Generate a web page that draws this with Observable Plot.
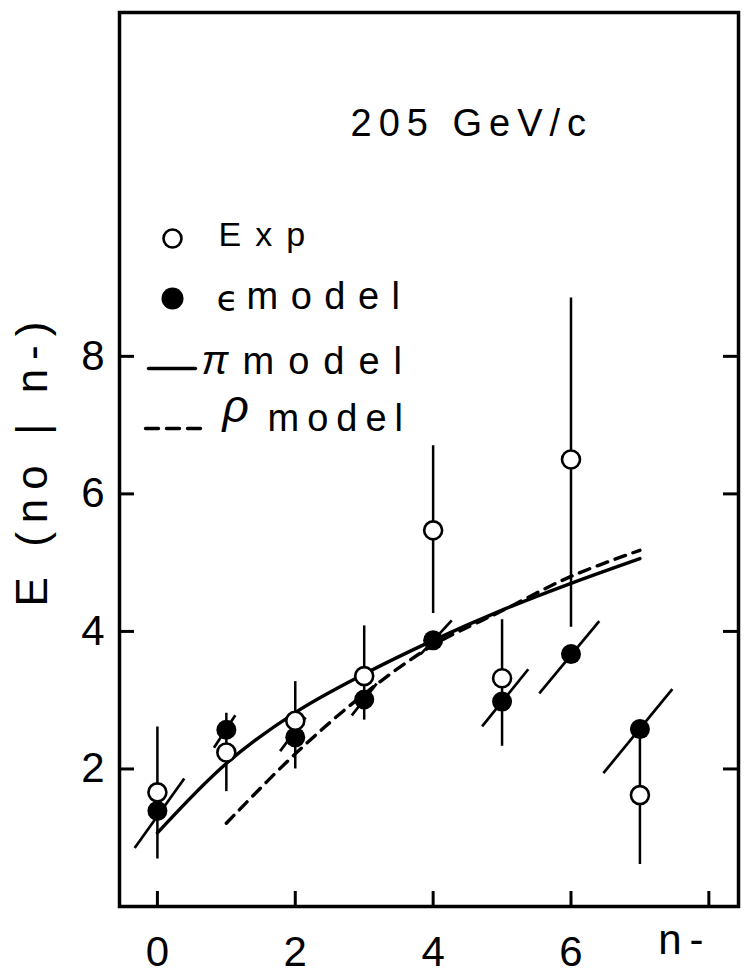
<!DOCTYPE html>
<html>
<head>
<meta charset="utf-8">
<script src="https://cdn.jsdelivr.net/npm/d3@7"></script>
<script src="https://cdn.jsdelivr.net/npm/@observablehq/plot@0.6"></script>
<style>
  body { margin: 0; background: #fff; }
</style>
</head>
<body>
<div id="chart"></div>
<script>
// ---- data ----
const n = [0, 1, 2, 3, 4, 5, 6, 7];
const expVal = [1.66, 2.24, 2.70, 3.35, 5.47, 3.32, 6.50, 1.62];
const expLo  = [0.69, 1.67, 2.00, 2.71, 4.26, 2.33, 4.06, 0.61];
const expHi  = [2.61, 2.81, 3.27, 4.08, 6.70, 4.17, 8.85, 2.58];
const epsVal = [1.39, 2.57, 2.46, 3.01, 3.87, 2.98, 3.67, 2.58];
// slanted bars through the epsilon-model points (end points)
const diagX1 = [-0.33, 0.82, 1.78, 2.82, 3.82, 4.71, 5.54, 6.47];
const diagY1 = [0.85, 2.31, 2.26, 2.78, 3.67, 2.62, 3.10, 1.94];
const diagX2 = [0.39, 1.13, 2.15, 3.18, 4.27, 5.38, 6.41, 7.47];
const diagY2 = [1.86, 2.78, 2.75, 3.24, 4.16, 3.45, 4.15, 3.16];
// model curves
const piN = [0, 1, 2, 3, 4, 5, 6, 7];
const piVal = [1.07, 2.08, 2.82, 3.38, 3.87, 4.31, 4.70, 5.06];
const rhoN = [1, 2, 3, 4, 5, 6, 7];
const rhoVal = [1.21, 2.22, 3.09, 3.80, 4.30, 4.80, 5.18];
// axes and texts
const xTicks = [0, 2, 4, 6, 8];
const xLabelTicks = [0, 2, 4, 6];
const yTicks = [2, 4, 6, 8];
const xName = "n-";
const yName = "E (no | n-)";
const title = "205 GeV/c";
const legendExp = "Exp";
const legendModel = "model";

const W = 753, H = 975;
const mL = 119, mR = 15, mT = 12, mB = 69;
const innerW = W - mL - mR, innerH = H - mT - mB;
const tickLen = 15;
const lineShape = { draw(ctx, l) { ctx.moveTo(0, 0); ctx.lineTo(0, -l); } };

const chart = Plot.plot({
  width: W, height: H,
  marginLeft: mL, marginRight: mR, marginTop: mT, marginBottom: mB,
  style: { fontFamily: "'Liberation Sans', Arial, sans-serif", background: "white", color: "black" },
  x: { domain: [-0.55, 8.43], label: null },
  y: { domain: [0, 13], label: null },
  marks: [
    Plot.frame({ strokeWidth: 3.5 }),
    // inward ticks
    Plot.tickY(yTicks, { y: d => d, insetRight: innerW - tickLen, strokeWidth: 3 }),
    Plot.tickY(yTicks, { y: d => d, insetLeft: innerW - tickLen, strokeWidth: 3 }),
    Plot.tickX(xTicks, { x: d => d, insetTop: innerH - tickLen, strokeWidth: 3 }),
    Plot.axisX(xLabelTicks, { tickSize: 0, tickPadding: 30, fontSize: 42, tickFormat: d => String(d), label: null }),
    Plot.axisY(yTicks, { anchor: "left", tickSize: 0, tickPadding: 15, fontSize: 42, tickFormat: d => String(d), label: null }),
    // error bars and slanted bars
    Plot.ruleX(n, { x: n, y1: expLo, y2: expHi, strokeWidth: 2.5 }),
    Plot.link(n, { x1: diagX1, y1: diagY1, x2: diagX2, y2: diagY2, strokeWidth: 2.7 }),
    // model curves
    Plot.line(piN, { x: piN, y: piVal, curve: "catmull-rom", strokeWidth: 3.4 }),
    Plot.line(rhoN, { x: rhoN, y: rhoVal, curve: "catmull-rom", strokeWidth: 3.4, strokeDasharray: "11,8" }),
    // points
    Plot.dot(n, { x: n, y: epsVal, r: 10, fill: "black" }),
    Plot.dot(n, { x: n, y: expVal, r: 9, fill: "white", stroke: "black", strokeWidth: 2.6 }),
    // title
    Plot.text([title], { text: d => d, frameAnchor: "top-left", dx: 231, dy: 123, textAnchor: "start", lineAnchor: "bottom", fontSize: 38 }),
    // legend
    Plot.dot([0], { frameAnchor: "top-left", dx: 53, dy: 226, r: 9, fill: "white", stroke: "black", strokeWidth: 2.6 }),
    Plot.text([legendExp], { text: d => d, frameAnchor: "top-left", dx: 99, dy: 233, textAnchor: "start", lineAnchor: "bottom", fontSize: 34 }),
    Plot.dot([0], { frameAnchor: "top-left", dx: 53, dy: 286, r: 11, fill: "black" }),
    Plot.text(["\u03F5"], { text: d => d, frameAnchor: "top-left", dx: 97, dy: 298, textAnchor: "start", lineAnchor: "bottom", fontSize: 36, fontFamily: "DejaVu Sans" }),
    Plot.text([legendModel], { text: d => d, frameAnchor: "top-left", dx: 127, dy: 296, textAnchor: "start", lineAnchor: "bottom", fontSize: 38 }),
    Plot.vector([0], { frameAnchor: "top-left", dx: 29, dy: 356, length: 47, rotate: 90, anchor: "start", shape: lineShape, strokeWidth: 3.4 }),
    Plot.text(["\u03C0"], { text: d => d, frameAnchor: "top-left", dx: 82, dy: 361, textAnchor: "start", lineAnchor: "bottom", fontSize: 40, fontStyle: "italic" }),
    Plot.text([legendModel], { text: d => d, frameAnchor: "top-left", dx: 123, dy: 361, textAnchor: "start", lineAnchor: "bottom", fontSize: 38 }),
    Plot.vector([0], { frameAnchor: "top-left", dx: 26, dy: 416, length: 55, rotate: 90, anchor: "start", shape: lineShape, strokeWidth: 3.4, strokeDasharray: "13,8" }),
    Plot.text(["\u03C1"], { text: d => d, frameAnchor: "top-left", dx: 103, dy: 409, textAnchor: "start", lineAnchor: "bottom", fontSize: 46, fontStyle: "italic" }),
    Plot.text([legendModel], { text: d => d, frameAnchor: "top-left", dx: 148, dy: 418, textAnchor: "start", lineAnchor: "bottom", fontSize: 38 }),
    // axis names
    Plot.text([yName], { text: d => d, frameAnchor: "left", rotate: -90, textAnchor: "middle", dx: -87, dy: 0, fontSize: 44 }),
    Plot.text([xName], { text: d => d, frameAnchor: "bottom-right", textAnchor: "end", dx: -27, dy: 47, fontSize: 42 })
  ]
});

// letter spacing of the lettering (the reference uses widely spaced stencil letters)
const spacing = new Map([[title, 7], [legendExp, 14], [yName, 9], [xName, 8]]);
const modelSpacing = [12.5, 14, 8];
let mi = 0;
d3.select(chart).selectAll("text").each(function () {
  const t = this.textContent;
  let ls = null;
  if (t === legendModel) ls = modelSpacing[mi++];
  else if (spacing.has(t)) ls = spacing.get(t);
  if (ls != null) {
    this.setAttribute("letter-spacing", ls);
    this.style.letterSpacing = ls + "px";
  }
});
document.getElementById("chart").appendChild(chart);
</script>
</body>
</html>
